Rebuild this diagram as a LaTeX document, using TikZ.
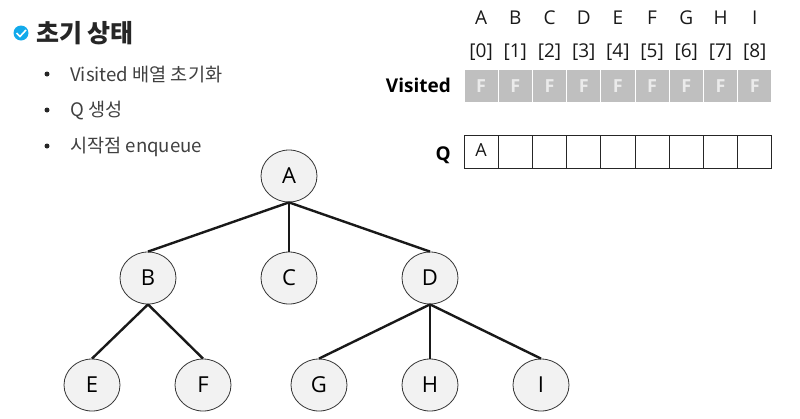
\documentclass[tikz,border=0pt]{standalone}
\usepackage{fontspec}
\setmainfont{Open Sans}
\newfontfamily\krfont{Noto Sans CJK KR}
\usetikzlibrary{positioning, shapes.geometric}
\definecolor{vertexgray}{RGB}{242, 242, 242}
\definecolor{cellgray}{RGB}{191, 191, 191}
\definecolor{checkblue}{RGB}{18, 170, 235}

\begin{document}
\begin{tikzpicture}[
        x=1pt, y=-1pt,
        vertex/.style={draw=black!80, ellipse, fill=vertexgray, line width=0.8pt, minimum width=56pt, minimum height=52pt, inner sep=0pt, font=\fontsize{22}{22}\selectfont},
        edge/.style={line width=2.4pt, black!90},
        visitcell/.style={draw=white, line width=0.8pt, fill=cellgray, text=white!92!black, minimum width=34.2pt, minimum height=33pt, inner sep=0pt, font=\fontsize{18}{18}\selectfont\bfseries},
        qcell/.style={draw=black!85, line width=0.8pt, minimum width=34.2pt, minimum height=33pt, inner sep=0pt},
        collabel/.style={font=\fontsize{19}{19}\selectfont, inner sep=0pt, text=black!90},
        rowlabel/.style={font=\fontsize{19}{19}\selectfont\bfseries, inner sep=0pt, anchor=east},
        item/.style={font=\krfont\fontsize{18.6}{18.6}\selectfont, inner sep=0pt, anchor=west, text=black!75},
        bullet/.style={circle, fill=black!85, inner sep=0pt, minimum size=5pt},
    ]
        \useasboundingbox (0,0) rectangle (800,418);

        % Heading and list
        \node[circle, fill=checkblue, inner sep=0pt, minimum size=15pt] (check) at (21,33) {};
        \draw[white, line width=1.6pt] (16.5,33) -- (20,36.5) -- (26,30);
        \node[font=\krfont\fontsize{25}{25}\selectfont\bfseries, inner sep=0pt, anchor=west, text=black!85] (title) at (36,33) {초기 상태};
        \foreach \y/\txt/\nm in {74/Visited 배열 초기화/a, 110/Q 생성/b, 146/시작점 enqueue/c} {
            \node[bullet] (dot\nm) at (47,\y) {};
            \node[item] (item\nm) at (70,\y+1) {\txt};
        }

        % Arrays
        \node[rowlabel] (visited) at (451,85.5) {Visited};
        \node[rowlabel] (qlabel) at (451,155) {Q};
        \foreach \i/\name in {0/A,1/B,2/C,3/D,4/E,5/F,6/G,7/H,8/I} {
            \node[visitcell] (v\i) at (481.1+\i*34.2,86) {F};
            \node[qcell] (q\i) at (481.1+\i*34.2,151.5) {};
            \node[collabel] (col\i) at (481.1+\i*34.2,18) {\name};
            \node[collabel] (idx\i) at (481.1+\i*34.2,52) {[\i]};
        }
        \node[font=\fontsize{18}{18}\selectfont, inner sep=0pt, text=black!90] (qval) at (481,150) {A};

        % Tree
        \node[vertex] (A) at (289,176) {A};
        \node[vertex] (B) at (148,278) {B};
        \node[vertex] (C) at (289,278) {C};
        \node[vertex] (D) at (430,278) {D};
        \node[vertex] (E) at (92,385) {E};
        \node[vertex] (F) at (203,385) {F};
        \node[vertex] (G) at (319,385) {G};
        \node[vertex] (H) at (430,385) {H};
        \node[vertex] (I) at (541,385) {I};

        \draw[edge] (A.south) -- (B.north);
        \draw[edge] (A.south) -- (C.north);
        \draw[edge] (A.south) -- (D.north);
        \draw[edge] (B.south) -- (E.north);
        \draw[edge] (B.south) -- (F.north);
        \draw[edge] (D.south) -- (G.north);
        \draw[edge] (D.south) -- (H.north);
        \draw[edge] (D.south) -- (I.north);
    \end{tikzpicture}
\end{document}
